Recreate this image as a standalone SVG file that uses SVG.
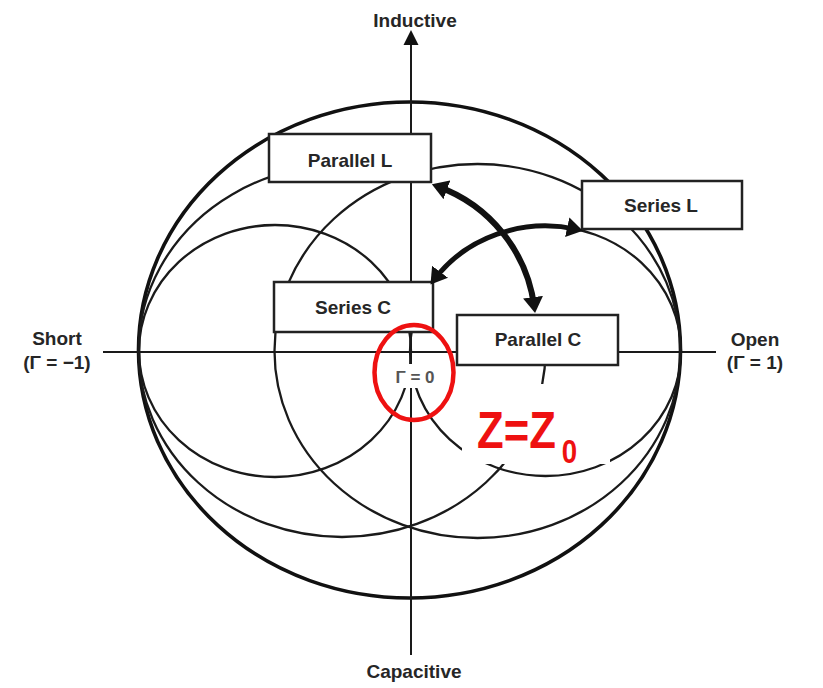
<svg xmlns="http://www.w3.org/2000/svg" width="823" height="688" viewBox="0 0 823 688">
<style>
.arc{fill:none;stroke:#1a1a1a;stroke-width:2.3}
.outer{fill:none;stroke:#111;stroke-width:3.6}
.axis{fill:none;stroke:#1a1a1a;stroke-width:2}
.box{fill:#fff;stroke:#222;stroke-width:2.5}
.lbl{font-family:"Liberation Sans",Arial,sans-serif;font-weight:bold;font-size:19px;fill:#262626;text-anchor:middle}
.conn{fill:none;stroke:#111}
.red{fill:#ee1111;font-family:"Liberation Sans",Arial,sans-serif;font-weight:bold}
</style>
<defs>
<marker id="ah" viewBox="0 0 16 20" refX="10" refY="10" markerWidth="16" markerHeight="20" markerUnits="userSpaceOnUse" orient="auto-start-reverse"><path d="M0,0 L16,10 L0,20 z" fill="#111"/></marker>
</defs>
<rect width="823" height="688" fill="#fff"/>
<g id="chart">
<ellipse class="outer" cx="409.5" cy="350" rx="271" ry="248"/>
<ellipse class="arc" cx="275" cy="351" rx="136" ry="126"/>
<ellipse class="arc" cx="545.5" cy="351" rx="135.5" ry="125"/>
<ellipse class="arc" cx="477.5" cy="351" rx="203" ry="187"/>
<path class="arc" d="M138.5,351 A203.5,186 0 0 1 427,182"/>
<path class="arc" d="M138.5,351 A203.5,186 0 0 0 545.5,351"/>
</g>
<g id="axes">
<line class="axis" x1="103" y1="352" x2="716" y2="352"/>
<line class="axis" x1="411" y1="44" x2="411" y2="655"/>
<polygon points="411,30 403.5,45 418.5,45" fill="#111"/>
<text class="lbl" x="415" y="27">Inductive</text>
<text class="lbl" x="414" y="678">Capacitive</text>
<text class="lbl" x="57" y="345">Short</text>
<text class="lbl" x="57" y="369">(Γ = −1)</text>
<text class="lbl" x="755" y="346">Open</text>
<text class="lbl" x="755" y="369">(Γ = 1)</text>
</g>
<g id="parallel-l"><rect class="box" x="269" y="134" width="162" height="48"/><text class="lbl" x="350" y="167">Parallel L</text></g>
<g id="series-l"><rect class="box" x="582" y="181" width="160" height="48"/><text class="lbl" x="661" y="212">Series L</text></g>
<g id="series-c"><rect class="box" x="274" y="282" width="159" height="50"/><text class="lbl" x="353" y="314">Series C</text></g>
<g id="parallel-c"><rect class="box" x="457" y="315" width="161" height="50"/><text class="lbl" x="538" y="346">Parallel C</text></g>
<g id="connectors">
<path class="conn" stroke-width="6" marker-start="url(#ah)" marker-end="url(#ah)" d="M437.5,186.4 A148.5,148.5 0 0 1 534.3,307.1"/>
<path class="conn" stroke-width="5" marker-start="url(#ah)" marker-end="url(#ah)" d="M434.1,279.8 A135.5,125 0 0 1 577,229.4"/>
</g>
<g id="gamma0">
<rect x="394" y="364" width="42" height="24" fill="#fff"/>
<text class="lbl" x="415" y="383" style="font-size:17px;fill:#555">Γ = 0</text>
</g>
<g id="z0-label">
<rect x="462" y="384" width="148" height="80" fill="#fff"/>
<text class="red" transform="translate(477,448) scale(0.84,1)" font-size="52">Z=Z<tspan font-size="33" dx="7" dy="15">0</tspan></text>
</g>
<g id="highlight">
<ellipse cx="414" cy="372.5" rx="39.5" ry="47.5" fill="none" stroke="#ee1111" stroke-width="4.5"/>
</g>
</svg>
